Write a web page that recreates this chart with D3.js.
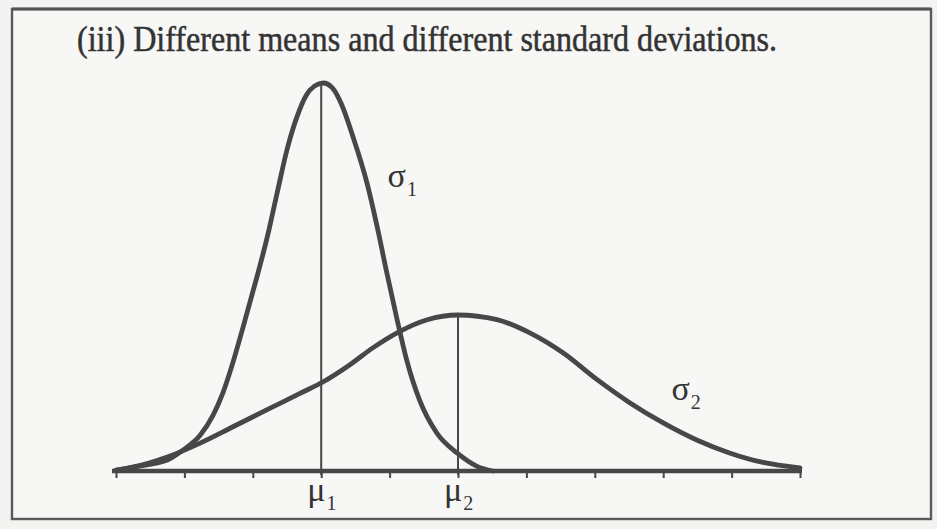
<!DOCTYPE html>
<html>
<head>
<meta charset="utf-8">
<script src="https://cdn.jsdelivr.net/npm/d3@7"></script>
<style>
  html, body { margin: 0; padding: 0; background: #f3f3f1; }
  svg { display: block; }
</style>
</head>
<body>
<svg id="chart" width="937" height="529"></svg>
<script>
// Narrow distribution (mean mu1, small sigma): x in axis units, height as density
const narrowX = [0.01, 0.25, 0.75, 0.98, 1.23, 1.42, 1.56, 1.71, 1.86, 2.06, 2.21, 2.35, 2.50, 2.64, 2.78, 2.90, 3.03,
                 3.16, 3.30, 3.46, 3.67, 3.82, 3.96, 4.11, 4.25, 4.44, 4.69, 4.99, 5.28, 5.51];
const narrowY = [0.001, 0.005, 0.014, 0.027, 0.046, 0.072, 0.100, 0.140, 0.186, 0.250, 0.301, 0.356, 0.414, 0.455, 0.484, 0.496, 0.500,
                 0.494, 0.472, 0.432, 0.371, 0.314, 0.255, 0.195, 0.143, 0.091, 0.049, 0.023, 0.006, 0.000];

// Wide distribution (mean mu2, large sigma)
const wideX = [0.00, 0.25, 0.75, 1.23, 1.71, 2.21, 2.69, 3.03, 3.42, 3.76, 4.15, 4.55, 5.00,
               5.57, 6.05, 6.54, 7.03, 7.51, 8.00, 8.49, 8.98, 9.46, 10.00];
const wideY = [0.001, 0.005, 0.018, 0.036, 0.057, 0.079, 0.100, 0.115, 0.137, 0.159, 0.180, 0.195, 0.201,
               0.195, 0.178, 0.152, 0.118, 0.088, 0.062, 0.040, 0.023, 0.011, 0.004];

// Means, sigma labels and axis ticks
const means = [{ name: "μ", sub: "1", x: 3, top: 0.500 }, { name: "μ", sub: "2", x: 5, top: 0.201 }];
const sigmaLabels = [{ name: "σ", sub: "1", x: 4.0, y: 0.37 }, { name: "σ", sub: "2", x: 8.15, y: 0.095 }];
const tickValues = [0, 1, 2, 3, 4, 5, 6, 7, 8, 9, 10];
const titleText = "(iii) Different means and different standard deviations.";

const svg = d3.select("#chart");
const ink = "#474747";
const serif = "Liberation Serif, Times New Roman, serif";

// page frame
svg.append("rect").attr("x", 12).attr("y", 9).attr("width", 919).attr("height", 510)
  .attr("fill", "#f7f7f5").attr("stroke", "#5a5a5a").attr("stroke-width", 2.4);
svg.append("line").attr("x1", 12).attr("x2", 931).attr("y1", 9).attr("y2", 9)
  .attr("stroke", "#555").attr("stroke-width", 3);

svg.append("text")
  .attr("x", 77).attr("y", 51)
  .attr("font-family", serif)
  .attr("font-size", 35)
  .attr("fill", "#333")
  .attr("stroke", "#333").attr("stroke-width", 0.5)
  .attr("textLength", 700).attr("lengthAdjust", "spacingAndGlyphs")
  .text(titleText);

const x = d3.scaleLinear().domain([0, 10]).range([116, 800]);
const y = d3.scaleLinear().domain([0, 0.5]).range([471, 83]);

// axis with downward ticks, no numeric labels
const axis = svg.append("g").attr("transform", `translate(0,${y(0)})`)
  .call(d3.axisBottom(x).tickValues(tickValues).tickSize(7).tickFormat(""));
axis.select(".domain").attr("stroke", ink).attr("stroke-width", 4.5).attr("d", `M${x(0) - 4},0H${x(10) + 2}`);
axis.selectAll(".tick line").attr("stroke", ink).attr("stroke-width", 2);

// mean lines
svg.selectAll("line.mean").data(means).join("line").attr("class", "mean")
  .attr("x1", d => x(d.x)).attr("x2", d => x(d.x))
  .attr("y1", y(0) + 4).attr("y2", d => y(d.top))
  .attr("stroke", ink).attr("stroke-width", 2);

const line = d3.line().x(d => x(d[0])).y(d => y(d[1])).curve(d3.curveMonotoneX);

svg.append("path").datum(wideX.map((v, i) => [v, wideY[i]]))
  .attr("d", line).attr("fill", "none").attr("stroke", ink)
  .attr("stroke-width", 4.8).attr("stroke-linejoin", "round").attr("stroke-linecap", "round");
svg.append("path").datum(narrowX.map((v, i) => [v, narrowY[i]]))
  .attr("d", line).attr("fill", "none").attr("stroke", ink)
  .attr("stroke-width", 4.8).attr("stroke-linejoin", "round").attr("stroke-linecap", "round");

// labels with subscripts
function label(sel, data) {
  const t = sel.selectAll(null).data(data).join("text")
    .attr("font-family", serif)
    .attr("fill", "#333");
  t.append("tspan").attr("font-size", 34).text(d => d.name);
  t.append("tspan").attr("font-size", 20).attr("dy", 9).attr("dx", 1).text(d => d.sub);
  return t;
}
label(svg, means).attr("x", d => x(d.x) - 14).attr("y", y(0) + 30);
label(svg, sigmaLabels).attr("x", d => x(d.x) - 2).attr("y", d => y(d.y) + 3);
</script>
</body>
</html>
